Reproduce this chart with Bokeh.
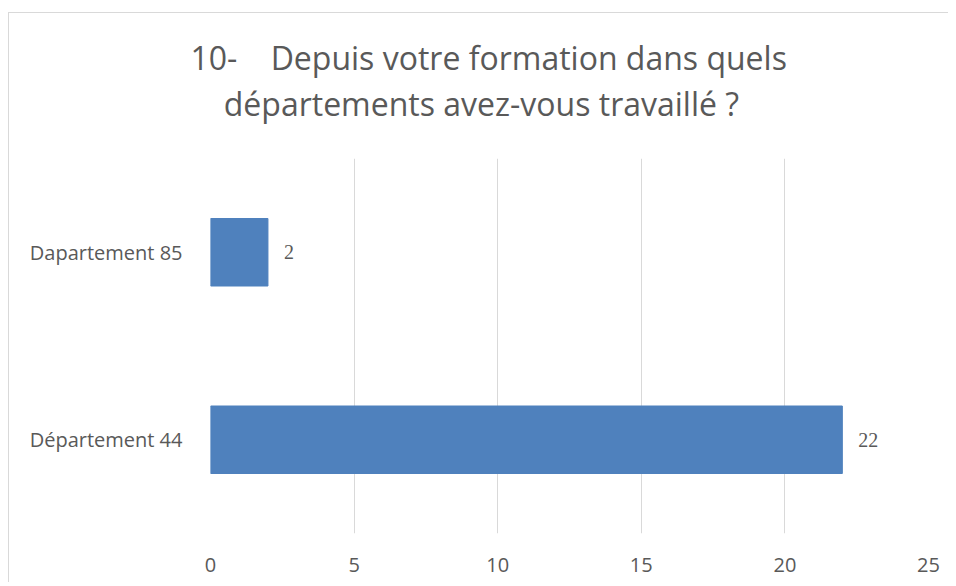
from bokeh.plotting import figure
from bokeh.models import ColumnDataSource, LabelSet, Title, FactorRange, SingleIntervalTicker
from bokeh.embed import file_html
from bokeh.resources import INLINE

categories = ["Département 44", "Dapartement 85"]
values = [22, 2]
title_line1 = "10-\u00a0\u00a0\u00a0\u00a0Depuis votre formation dans quels"
title_line2 = "\u00a0\u00a0\u00a0\u00a0départements avez-vous travaillé ?"

FONT = "Open Sans"
GRAY = "#595959"

src = ColumnDataSource(dict(cat=categories, val=values, lbl=[str(v) for v in values]))

p = figure(width=940, height=570, output_backend="svg", toolbar_location=None,
           y_range=FactorRange(factors=categories), x_range=(0, 25),
           min_border_left=201, min_border_right=21, min_border_top=145, min_border_bottom=50)
p.styles = {"margin-left": "8px", "margin-top": "12px",
            "border-left": "1px solid #d9d9d9", "border-top": "1px solid #d9d9d9"}

p.hbar(y="cat", right="val", left=0, height=0.36, source=src,
       fill_color="#4F81BD", line_color="#4F81BD")

labels = LabelSet(x="val", y="cat", text="lbl", source=src, x_offset=16,
                  text_baseline="middle", text_font=FONT, text_font_size="20px",
                  text_color=GRAY)
p.add_layout(labels)

# spacer between the title and the plot area
spacer = Title(text="\u00a0", text_font_size="2px", standoff=29)
p.add_layout(spacer, "above")

title = Title(text=title_line1 + "\n" + title_line2, align="left", text_font=FONT,
              text_font_size="32px", text_font_style="normal", text_color=GRAY,
              offset=-20, standoff=0, text_line_height=1.09)
p.add_layout(title, "above")

p.xaxis.ticker = SingleIntervalTicker(interval=5)
p.xaxis.axis_line_color = None
p.xaxis.major_tick_line_color = None
p.xaxis.minor_tick_line_color = None
p.xaxis.major_label_text_font = FONT
p.xaxis.major_label_text_font_size = "20px"
p.xaxis.major_label_text_color = GRAY
p.xaxis.major_label_standoff = 18

p.yaxis.axis_line_color = None
p.yaxis.major_tick_line_color = None
p.yaxis.minor_tick_line_color = None
p.yaxis.major_label_text_font = FONT
p.yaxis.major_label_text_font_size = "20px"
p.yaxis.major_label_text_color = GRAY
p.yaxis.major_label_standoff = 22

p.xgrid.grid_line_color = "#d9d9d9"
p.xgrid.grid_line_width = 1
p.ygrid.grid_line_color = None
p.outline_line_color = None

open("out.html", "w").write(file_html(p, INLINE))
